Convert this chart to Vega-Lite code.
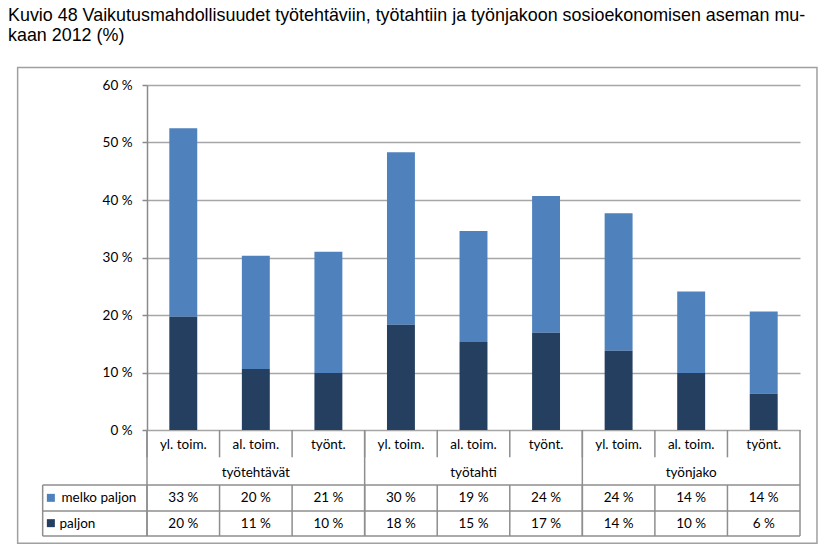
{
  "$schema": "https://vega.github.io/schema/vega-lite/v6.json",
  "width": 653,
  "height": 345,
  "autosize": {"type": "none"},
  "padding": {"left": 147, "top": 85, "right": 36, "bottom": 126},
  "title": {
    "text": ["Kuvio 48 Vaikutusmahdollisuudet työtehtäviin, työtahtiin ja työnjakoon sosioekonomisen aseman mu-", "kaan 2012 (%)"],
    "anchor": "start",
    "frame": "group",
    "dx": -139,
    "offset": 22,
    "font": "Liberation Sans",
    "fontSize": 17.9,
    "fontWeight": "normal",
    "color": "#000000",
    "lineHeight": 20
  },
  "datasets": {
    "rows": [
      {"col": "työtehtävät: yl. toim.", "group": "työtehtävät", "cat": "yl. toim.", "series": "melko paljon", "value": 32.8, "label": "33 %"},
      {"col": "työtehtävät: yl. toim.", "group": "työtehtävät", "cat": "yl. toim.", "series": "paljon", "value": 19.7, "label": "20 %"},
      {"col": "työtehtävät: al. toim.", "group": "työtehtävät", "cat": "al. toim.", "series": "melko paljon", "value": 19.7, "label": "20 %"},
      {"col": "työtehtävät: al. toim.", "group": "työtehtävät", "cat": "al. toim.", "series": "paljon", "value": 10.6, "label": "11 %"},
      {"col": "työtehtävät: työnt.", "group": "työtehtävät", "cat": "työnt.", "series": "melko paljon", "value": 21.1, "label": "21 %"},
      {"col": "työtehtävät: työnt.", "group": "työtehtävät", "cat": "työnt.", "series": "paljon", "value": 9.9, "label": "10 %"},
      {"col": "työtahti: yl. toim.", "group": "työtahti", "cat": "yl. toim.", "series": "melko paljon", "value": 30.0, "label": "30 %"},
      {"col": "työtahti: yl. toim.", "group": "työtahti", "cat": "yl. toim.", "series": "paljon", "value": 18.3, "label": "18 %"},
      {"col": "työtahti: al. toim.", "group": "työtahti", "cat": "al. toim.", "series": "melko paljon", "value": 19.3, "label": "19 %"},
      {"col": "työtahti: al. toim.", "group": "työtahti", "cat": "al. toim.", "series": "paljon", "value": 15.3, "label": "15 %"},
      {"col": "työtahti: työnt.", "group": "työtahti", "cat": "työnt.", "series": "melko paljon", "value": 23.8, "label": "24 %"},
      {"col": "työtahti: työnt.", "group": "työtahti", "cat": "työnt.", "series": "paljon", "value": 16.9, "label": "17 %"},
      {"col": "työnjako: yl. toim.", "group": "työnjako", "cat": "yl. toim.", "series": "melko paljon", "value": 23.9, "label": "24 %"},
      {"col": "työnjako: yl. toim.", "group": "työnjako", "cat": "yl. toim.", "series": "paljon", "value": 13.8, "label": "14 %"},
      {"col": "työnjako: al. toim.", "group": "työnjako", "cat": "al. toim.", "series": "melko paljon", "value": 14.2, "label": "14 %"},
      {"col": "työnjako: al. toim.", "group": "työnjako", "cat": "al. toim.", "series": "paljon", "value": 9.9, "label": "10 %"},
      {"col": "työnjako: työnt.", "group": "työnjako", "cat": "työnt.", "series": "melko paljon", "value": 14.3, "label": "14 %"},
      {"col": "työnjako: työnt.", "group": "työnjako", "cat": "työnt.", "series": "paljon", "value": 6.3, "label": "6 %"}
    ]
  },
  "data": {"name": "rows"},
  "resolve": {"scale": {"x": "independent"}},
  "layer": [
    {
      "encoding": {
        "x": {
          "field": "col", "type": "nominal", "axis": null,
          "scale": {"type": "band", "paddingInner": 0, "paddingOuter": 0,
            "domain": ["työtehtävät: yl. toim.", "työtehtävät: al. toim.", "työtehtävät: työnt.", "työtahti: yl. toim.", "työtahti: al. toim.", "työtahti: työnt.", "työnjako: yl. toim.", "työnjako: al. toim.", "työnjako: työnt."]}
        }
      },
      "layer": [
        {
          "mark": {"type": "bar", "width": {"band": 0.385}},
          "encoding": {
            "y": {
              "field": "value", "type": "quantitative", "stack": "zero", "title": null,
              "scale": {"domain": [0, 60], "nice": false},
              "axis": {
                "values": [0, 10, 20, 30, 40, 50, 60],
                "labelExpr": "datum.value + ' %'",
                "grid": true, "gridColor": "#A6A6A6", "gridWidth": 1.5,
                "domainColor": "#8A8A8A", "domainWidth": 1.5,
                "tickColor": "#8A8A8A", "tickWidth": 1.5, "tickSize": 5,
                "labelPadding": 10, "labelFont": "Lato", "labelFontSize": 13.5, "labelColor": "#000000"
              }
            },
            "color": {
              "field": "series", "type": "nominal", "legend": null,
              "scale": {"domain": ["melko paljon", "paljon"], "range": ["#4F81BD", "#243F60"]}
            },
            "order": {"field": "series", "sort": "descending"}
          }
        },
        {
          "transform": [{"filter": "datum.series == 'paljon'"}],
          "mark": {"type": "text", "baseline": "middle", "font": "Lato", "fontSize": 13.5, "color": "#000000"},
          "encoding": {
            "y": {"datum": -2.6, "type": "quantitative", "title": null, "scale": {"domain": [0, 60], "nice": false}},
            "text": {"field": "cat"}
          }
        },
        {
          "transform": [{"filter": "datum.series == 'paljon' && datum.cat == 'al. toim.'"}],
          "mark": {"type": "text", "baseline": "middle", "font": "Lato", "fontSize": 13.5, "color": "#000000"},
          "encoding": {
            "y": {"datum": -7.45, "type": "quantitative", "title": null, "scale": {"domain": [0, 60], "nice": false}},
            "text": {"field": "group"}
          }
        },
        {
          "transform": [{"filter": "datum.series == 'melko paljon'"}],
          "mark": {"type": "text", "baseline": "middle", "font": "Lato", "fontSize": 13.5, "color": "#000000"},
          "encoding": {
            "y": {"datum": -11.8, "type": "quantitative", "title": null, "scale": {"domain": [0, 60], "nice": false}},
            "text": {"field": "label"}
          }
        },
        {
          "transform": [{"filter": "datum.series == 'paljon'"}],
          "mark": {"type": "text", "baseline": "middle", "font": "Lato", "fontSize": 13.5, "color": "#000000"},
          "encoding": {
            "y": {"datum": -16.3, "type": "quantitative", "title": null, "scale": {"domain": [0, 60], "nice": false}},
            "text": {"field": "label"}
          }
        },
        {
          "transform": [{"filter": "datum.series == 'paljon'"}],
          "mark": {"type": "rule", "color": "#8E8E8E", "strokeWidth": 1.5},
          "encoding": {
            "x": {"field": "col", "type": "nominal", "bandPosition": 0, "axis": null},
            "y": {"datum": 0, "type": "quantitative", "title": null, "scale": {"domain": [0, 60], "nice": false}},
            "y2": {"datum": -4.75}
          }
        },
        {
          "transform": [{"filter": "datum.series == 'paljon'"}],
          "mark": {"type": "rule", "color": "#8E8E8E", "strokeWidth": 1.5},
          "encoding": {
            "x": {"field": "col", "type": "nominal", "bandPosition": 0, "axis": null},
            "y": {"datum": -9.57, "type": "quantitative", "title": null, "scale": {"domain": [0, 60], "nice": false}},
            "y2": {"datum": -18.43}
          }
        },
        {
          "transform": [{"filter": "datum.series == 'paljon' && datum.cat == 'yl. toim.'"}],
          "mark": {"type": "rule", "color": "#8E8E8E", "strokeWidth": 1.5},
          "encoding": {
            "x": {"field": "col", "type": "nominal", "bandPosition": 0, "axis": null},
            "y": {"datum": 0, "type": "quantitative", "title": null, "scale": {"domain": [0, 60], "nice": false}},
            "y2": {"datum": -18.43}
          }
        }
      ]
    },
    {
      "data": {"values": [{}]},
      "layer": [
        {
          "mark": {"type": "rect", "fill": null, "stroke": "#A0A0A0", "strokeWidth": 1.5},
          "encoding": {
            "x": {"datum": -1.783, "type": "quantitative", "axis": null, "scale": {"domain": [0, 9], "nice": false, "zero": false}},
            "x2": {"datum": 9.234},
            "y": {"datum": 63.05, "type": "quantitative", "title": null, "scale": {"domain": [0, 60], "nice": false}},
            "y2": {"datum": -19.7}
          }
        },
        {
          "mark": {"type": "rule", "color": "#8E8E8E", "strokeWidth": 1.5},
          "encoding": {
            "x": {"datum": -1.438, "type": "quantitative", "axis": null, "scale": {"domain": [0, 9], "nice": false, "zero": false}},
            "x2": {"datum": 9},
            "y": {"datum": -9.57, "type": "quantitative", "title": null, "scale": {"domain": [0, 60], "nice": false}}
          }
        },
        {
          "mark": {"type": "rule", "color": "#8E8E8E", "strokeWidth": 1.5},
          "encoding": {
            "x": {"datum": -1.438, "type": "quantitative", "axis": null, "scale": {"domain": [0, 9], "nice": false, "zero": false}},
            "x2": {"datum": 9},
            "y": {"datum": -14.09, "type": "quantitative", "title": null, "scale": {"domain": [0, 60], "nice": false}}
          }
        },
        {
          "mark": {"type": "rule", "color": "#8E8E8E", "strokeWidth": 1.5},
          "encoding": {
            "x": {"datum": -1.438, "type": "quantitative", "axis": null, "scale": {"domain": [0, 9], "nice": false, "zero": false}},
            "x2": {"datum": 9},
            "y": {"datum": -18.43, "type": "quantitative", "title": null, "scale": {"domain": [0, 60], "nice": false}}
          }
        },
        {
          "mark": {"type": "rule", "color": "#8E8E8E", "strokeWidth": 1.5},
          "encoding": {
            "x": {"datum": -1.438, "type": "quantitative", "axis": null, "scale": {"domain": [0, 9], "nice": false, "zero": false}},
            "y": {"datum": -9.57, "type": "quantitative", "title": null, "scale": {"domain": [0, 60], "nice": false}},
            "y2": {"datum": -18.43}
          }
        },
        {
          "mark": {"type": "rule", "color": "#8E8E8E", "strokeWidth": 1.5},
          "encoding": {
            "x": {"datum": 9, "type": "quantitative", "axis": null, "scale": {"domain": [0, 9], "nice": false, "zero": false}},
            "y": {"datum": 0, "type": "quantitative", "title": null, "scale": {"domain": [0, 60], "nice": false}},
            "y2": {"datum": -18.43}
          }
        },
        {
          "mark": {"type": "point", "shape": "square", "filled": true, "size": 64, "opacity": 1},
          "encoding": {
            "x": {"datum": -1.325, "type": "quantitative", "axis": null, "scale": {"domain": [0, 9], "nice": false, "zero": false}},
            "y": {"datum": -11.8, "type": "quantitative", "title": null, "scale": {"domain": [0, 60], "nice": false}},
            "color": {"datum": "melko paljon"}
          }
        },
        {
          "mark": {"type": "point", "shape": "square", "filled": true, "size": 64, "opacity": 1},
          "encoding": {
            "x": {"datum": -1.325, "type": "quantitative", "axis": null, "scale": {"domain": [0, 9], "nice": false, "zero": false}},
            "y": {"datum": -16.2, "type": "quantitative", "title": null, "scale": {"domain": [0, 60], "nice": false}},
            "color": {"datum": "paljon"}
          }
        },
        {
          "mark": {"type": "text", "align": "left", "baseline": "middle", "font": "Lato", "fontSize": 13.5, "color": "#000000"},
          "encoding": {
            "x": {"datum": -1.179, "type": "quantitative", "axis": null, "scale": {"domain": [0, 9], "nice": false, "zero": false}},
            "y": {"datum": -11.8, "type": "quantitative", "title": null, "scale": {"domain": [0, 60], "nice": false}},
            "text": {"datum": "melko paljon"}
          }
        },
        {
          "mark": {"type": "text", "align": "left", "baseline": "middle", "font": "Lato", "fontSize": 13.5, "color": "#000000"},
          "encoding": {
            "x": {"datum": -1.207, "type": "quantitative", "axis": null, "scale": {"domain": [0, 9], "nice": false, "zero": false}},
            "y": {"datum": -16.3, "type": "quantitative", "title": null, "scale": {"domain": [0, 60], "nice": false}},
            "text": {"datum": "paljon"}
          }
        }
      ]
    }
  ],
  "config": {
    "view": {"stroke": null},
    "font": "Lato",
    "background": "#FFFFFF"
  }
}
